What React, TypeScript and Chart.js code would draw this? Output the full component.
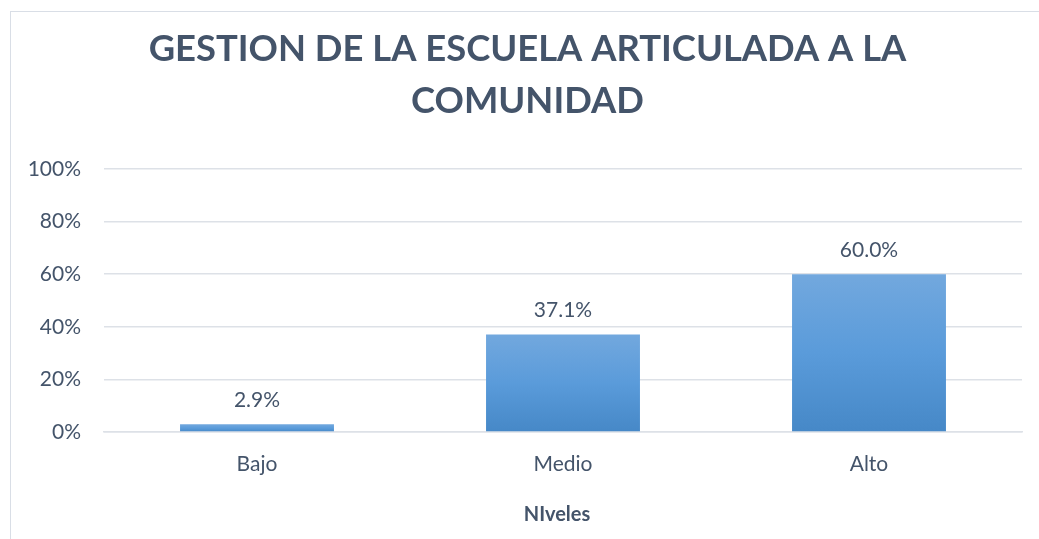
import React, { useEffect, useRef } from "react";
import { Chart, registerables } from "chart.js";

Chart.register(...registerables);

const categories = ["Bajo", "Medio", "Alto"];
const values = [2.9, 37.1, 60.0];
const valueLabels = ["2.9%", "37.1%", "60.0%"];
const titleLines = ["GESTION DE LA ESCUELA ARTICULADA A LA", "COMUNIDAD"];
const xAxisTitle = "NIveles";
const yMin = 0;
const yMax = 100;
const yStep = 20;

const FONT = "Lato, 'Open Sans', sans-serif";
const TEXT = "#44546A";
const GRID = "#DDE1E7";

export default function App() {
  const ref = useRef<HTMLCanvasElement | null>(null);

  useEffect(() => {
    document.documentElement.style.overflow = "hidden";
    document.body.style.overflow = "hidden";
    const canvas = ref.current;
    if (!canvas) return;

    const labelPlugin = {
      id: "valueLabels",
      afterDatasetsDraw(chart: any) {
        const ctx = chart.ctx;
        const meta = chart.getDatasetMeta(0);
        ctx.save();
        ctx.font = `21px ${FONT}`;
        ctx.fillStyle = TEXT;
        ctx.textAlign = "center";
        ctx.textBaseline = "middle";
        meta.data.forEach((bar: any, i: number) => {
          ctx.fillText(valueLabels[i], bar.x, bar.y - 24);
        });
        ctx.restore();
      },
    };

    const textPlugin = {
      id: "texts",
      afterDraw(chart: any) {
        const ctx = chart.ctx;
        ctx.save();
        ctx.fillStyle = TEXT;
        ctx.textAlign = "center";
        ctx.textBaseline = "middle";
        ctx.font = `bold 36.4px ${FONT}`;
        titleLines.forEach((line, i) => {
          ctx.fillText(line, 516.5, 37 + i * 52);
        });
        ctx.font = `bold 20px ${FONT}`;
        ctx.fillText(xAxisTitle, 546, 503);
        ctx.restore();
      },
    };

    const chart = new Chart(canvas, {
      type: "bar",
      data: {
        labels: categories,
        datasets: [
          {
            data: values,
            backgroundColor: (c: any) => {
              const ch = c.chart;
              const ys = ch.scales?.y;
              if (!ys || c.raw == null) return "#5B9BD5";
              const top = ys.getPixelForValue(c.raw);
              const base = ys.getPixelForValue(0);
              if (!isFinite(top) || !isFinite(base) || top === base) return "#5B9BD5";
              const g = ch.ctx.createLinearGradient(0, top, 0, base);
              g.addColorStop(0, "#72A8DE");
              g.addColorStop(0.5, "#5A9BDA");
              g.addColorStop(1, "#4688C7");
              return g;
            },
            borderWidth: 0,
            barPercentage: 0.503,
            categoryPercentage: 1,
          },
        ],
      },
      options: {
        responsive: false,
        animation: false,
        layout: { padding: { left: 0, right: 17, top: 157, bottom: 0 } },
        plugins: {
          legend: { display: false },
          tooltip: { enabled: false },
          title: { display: false },
        },
        scales: {
          x: {
            grid: { display: false, drawTicks: false },
            border: { display: true, color: GRID, width: 1.5 },
            ticks: { color: TEXT, font: { family: FONT, size: 21 }, padding: 20 },
            afterFit: (s: any) => {
              s.height = 107;
            },
          },
          y: {
            min: yMin,
            max: yMax,
            grid: { color: GRID, lineWidth: 1.5, drawTicks: false },
            border: { display: false },
            ticks: {
              stepSize: yStep,
              color: TEXT,
              font: { family: FONT, size: 21 },
              padding: 23,
              callback: (v: any) => `${v}%`,
            },
            afterFit: (s: any) => {
              s.width = 93;
            },
          },
        },
      },
      plugins: [labelPlugin, textPlugin],
    });

    return () => chart.destroy();
  }, []);

  return (
    <div
      style={{
        position: "fixed",
        left: 10,
        top: 11,
        right: 0,
        bottom: 0,
        borderLeft: "1px solid #D9DEE6",
        borderTop: "1px solid #D9DEE6",
        background: "#FFFFFF",
      }}
    >
      <canvas ref={ref} width={1028} height={527} style={{ display: "block", width: 1028, height: 527 }} />
    </div>
  );
}
